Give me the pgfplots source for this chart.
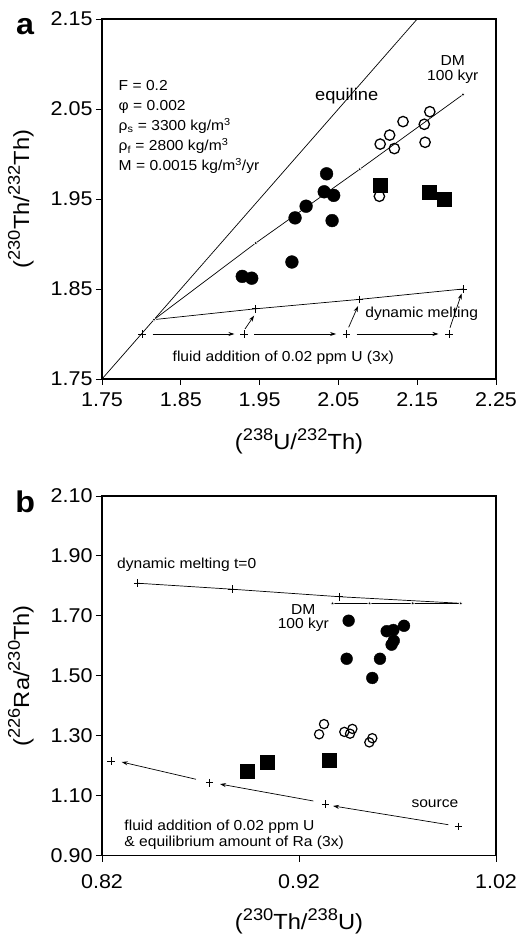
\documentclass[border=0pt]{standalone}
\usepackage{fontspec}
\setmainfont{Liberation Sans}[FakeStretch=1.08]
\usepackage{pgfplots}
\pgfplotsset{compat=1.18}
\usetikzlibrary{arrows.meta}

% superscript for the isotope labels
\newcommand{\iso}[1]{\raisebox{0.42em}{\fontsize{17}{17}\selectfont #1}}

\pgfplotsset{
  panel/.style={
    scale only axis, width=394bp,
    tick align=outside, tick pos=left,
    major tick length=6bp,
    axis line style={line width=1.2bp},
    every tick/.style={black, line width=0.9bp},
    tick label style={font=\fontsize{20}{20}\selectfont},
    label style={font=\fontsize{22}{22}\selectfont},
    /pgf/number format/assume math mode=true,
    /pgf/number format/fixed, /pgf/number format/fixed zerofill,
    /pgf/number format/precision=2,
    clip=false,
  },
  model/.style={black, line width=0.7bp},
  arr/.style={black, line width=0.7bp, -{Stealth[length=6bp,width=4bp]}},
  dot/.style={mark=*, mark size=1.7bp, mark options={fill=black, draw=white, line width=0.6bp}},
  cross/.style={mark=+, mark size=3.8bp, mark options={line width=0.8bp}},
}
\tikzset{ann/.style={font=\fontsize{14.5}{14.5}\selectfont, inner sep=0pt, align=center}}

\begin{document}
\begin{tikzpicture}
\useasboundingbox (0,0) rectangle (519bp,934bp);

% ---------------- panel a
\begin{axis}[panel, at={(102bp,555bp)}, anchor=south west, height=360bp,
    xmin=1.75, xmax=2.25, ymin=1.75, ymax=2.15,
    xtick={1.75,1.85,1.95,2.05,2.15,2.25},
    ytick={1.75,1.85,1.95,2.05,2.15},
    xticklabel style={yshift=-4bp},
    xlabel={(\iso{238}U/\iso{232}Th)},
    ylabel={(\iso{230}Th/\iso{232}Th)},
    xlabel style={at={(axis description cs:0.5,-0.174)}, anchor=center},
    ylabel style={at={(axis description cs:-0.206,0.5)}, anchor=center},
]
% equiline
\addplot[model] coordinates {(1.75,1.75) (2.15,2.15)};
% dynamic melting
\addplot[model, cross, mark indices={2,3,4}] coordinates {
  (1.816,1.816) (1.945,1.828) (2.077,1.8385) (2.208,1.850)};
% DM 100 kyr
\addplot[model, dot] coordinates {
  (1.816,1.816) (1.945,1.901) (2.077,1.983) (2.208,2.066)};
% fluid addition
\addplot[only marks, cross] coordinates {
  (1.8008,1.80) (1.9302,1.80) (2.0605,1.80) (2.1904,1.80)};
\addplot[arr] coordinates {(1.8143,1.80) (1.918,1.80)};
\addplot[arr] coordinates {(1.943,1.80) (2.047,1.80)};
\addplot[arr] coordinates {(2.073,1.80) (2.177,1.80)};
\addplot[arr] coordinates {(1.9315,1.8056) (1.943,1.8204)};
\addplot[arr] coordinates {(2.063,1.8074) (2.0749,1.831)};
\addplot[arr] coordinates {(2.1916,1.807) (2.2064,1.845)};
% samples
\addplot[only marks, mark=*, mark size=6.4bp, fill=black] coordinates {
  (2.035,1.978) (2.032,1.958) (2.044,1.954) (2.009,1.942) (1.995,1.929)
  (2.042,1.926) (1.991,1.880) (1.928,1.864) (1.940,1.862)};
\addplot[only marks, mark=o, mark size=5.2bp, mark options={line width=1.3bp, fill=white}] coordinates {
  (2.103,2.011) (2.115,2.021) (2.121,2.006) (2.132,2.036) (2.159,2.033)
  (2.166,2.047) (2.160,2.013) (2.102,1.953)};
\addplot[only marks, mark=square*, mark size=7bp, fill=black] coordinates {
  (2.103,1.965) (2.165,1.957) (2.184,1.950)};
% text
\node[ann, font=\fontsize{17}{17}\selectfont] at (axis cs:2.0605,2.0644) {equiline};
\node[ann] at (axis cs:2.1952,2.0939) {DM\\100 kyr};
\node[ann] at (axis cs:2.1557,1.8222) {dynamic melting};
\node[ann] at (axis cs:1.980,1.7741) {fluid addition of 0.02 ppm U (3x)};
\begin{scope}[every node/.style={ann, anchor=base west}]
\node at (axis cs:1.771,2.0703) {F = 0.2};
\node at (axis cs:1.771,2.0481) {φ = 0.002};
\node at (axis cs:1.771,2.0259) {ρ\textsubscript{s} = 3300 kg/m\textsuperscript{3}};
\node at (axis cs:1.771,2.0037) {ρ\textsubscript{f} = 2800 kg/m\textsuperscript{3}};
\node at (axis cs:1.771,1.9814) {M = 0.0015 kg/m\textsuperscript{3}/yr};
\end{scope}
\node[font=\fontsize{30}{30}\selectfont\bfseries] at (axis description cs:-0.195,0.978) {a};
\end{axis}

% ---------------- panel b
\begin{axis}[panel, at={(102bp,78.3bp)}, anchor=south west, height=359.7bp,
    xmin=0.82, xmax=1.02, ymin=0.90, ymax=2.10,
    xtick={0.82,0.92,1.02},
    ytick={0.90,1.10,1.30,1.50,1.70,1.90,2.10},
    xticklabel style={yshift=-9bp},
    xlabel={(\iso{230}Th/\iso{238}U)},
    ylabel={(\iso{226}Ra/\iso{230}Th)},
    xlabel style={at={(axis description cs:0.5,-0.1835)}, anchor=center},
    ylabel style={at={(axis description cs:-0.206,0.5)}, anchor=center},
]
% dynamic melting t=0
\addplot[model, cross, mark indices={1,2,3}] coordinates {
  (0.8381,1.809) (0.8861,1.789) (0.9404,1.764) (1.0021,1.742)};
% DM 100 kyr
\addplot[model, dot] coordinates {
  (0.937,1.742) (0.9558,1.742) (0.9777,1.742) (1.0021,1.742)};
% fluid addition
\addplot[only marks, cross] coordinates {
  (1.0009,0.998) (0.9335,1.0715) (0.8746,1.1435) (0.8246,1.215)};
\addplot[arr] coordinates {(0.9958,1.0034) (0.9373,1.066)};
\addplot[arr] coordinates {(0.9273,1.0825) (0.8799,1.139)};
\addplot[arr] coordinates {(0.8677,1.155) (0.830,1.2126)};
% samples
\addplot[only marks, mark=*, mark size=5.9bp, fill=black] coordinates {
  (0.9452,1.684) (0.9442,1.557) (0.9572,1.493) (0.9611,1.557) (0.9645,1.649)
  (0.9679,1.653) (0.9733,1.667) (0.9670,1.604) (0.9681,1.617)};
\addplot[only marks, mark=o, mark size=4.6bp, mark options={line width=1.2bp, fill=white}] coordinates {
  (0.9302,1.305) (0.9327,1.339) (0.943,1.313) (0.9459,1.307) (0.9471,1.323)
  (0.9572,1.292) (0.9557,1.278)};
\addplot[only marks, mark=square*, mark size=7bp, fill=black] coordinates {
  (0.8936,1.1826) (0.9041,1.2126) (0.9352,1.218)};
% text
\node[ann] at (axis cs:0.8630,1.8698) {dynamic melting t=0};
\node[ann] at (axis cs:0.9222,1.6935) {DM\\100 kyr};
\node[ann] at (axis cs:0.9890,1.0748) {source};
\node[ann, anchor=west] at (axis cs:0.8313,0.9967) {fluid addition of 0.02 ppm U};
\node[ann, anchor=west] at (axis cs:0.8313,0.9434) {\& equilibrium amount of Ra (3x)};
\node[font=\fontsize{30}{30}\selectfont\bfseries] at (axis description cs:-0.195,0.983) {b};
\end{axis}
\end{tikzpicture}
\end{document}
